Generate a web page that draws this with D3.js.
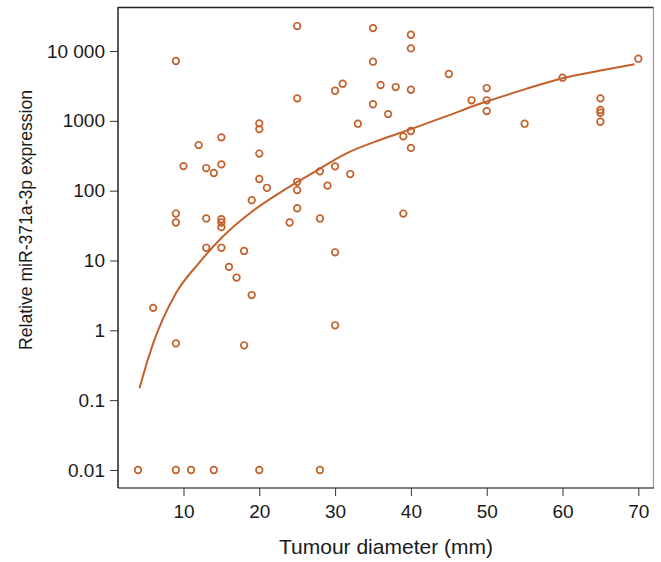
<!DOCTYPE html>
<html>
<head>
<meta charset="utf-8">
<script src="https://d3js.org/d3.v7.min.js"></script>
<style>
	body { margin: 0; background: #fff; }
	svg { font-family: "Liberation Sans", Arial, sans-serif; }
	.axis .domain { display: none; }
	.axis text { font-size: 19px; fill: #1a1a1a; }
	.axis line { stroke: #333; }
</style>
</head>
<body>
<svg width="661" height="562"></svg>
<script>

// tumour size (mm) and relative miR-371a-3p expression for each case
var diameter = [4, 6, 9, 9, 9, 9, 9, 10, 11, 12, 13, 13, 13, 14, 14, 15, 15, 15, 15, 15, 15,
	16, 17, 18, 18, 19, 19, 20, 20, 20, 20, 20, 21, 24, 25, 25, 25, 25, 25, 28, 28, 28, 29,
	30, 30, 30, 30, 31, 32, 33, 35, 35, 35, 36, 37, 38, 39, 39, 40, 40, 40, 40, 40, 45, 48,
	50, 50, 50, 55, 60, 65, 65, 65, 65, 70];
var expression = [0.01, 2.1, 7200, 47, 35, 0.65, 0.01, 225, 0.01, 450, 211, 40, 15.2, 179, 0.01,
	580, 238, 39, 35, 30, 15.2, 8.1, 5.7, 13.7, 0.61, 73, 3.2, 920, 760, 340, 147, 0.01, 110,
	35, 22800, 2100, 134, 102, 56, 189, 40, 0.01, 118, 2700, 223, 13.1, 1.18, 3400, 173, 910,
	21300, 7030, 1730, 3260, 1250, 3050, 600, 47, 17100, 10900, 2790, 715, 410, 4690, 1970,
	2950, 1970, 1380, 910, 4150, 2100, 1430, 1305, 970, 7760];

// fitted trend
var fitX = [4.2, 4.5, 6, 9, 12, 15, 19, 23, 27, 31.5, 36, 40, 45, 49, 55, 60, 65, 69.5];
var fitY = [0.148, 0.195, 0.65, 3.4, 9.1, 21, 50, 98, 178, 343, 537, 760, 1200, 1740, 2820, 4070, 5250, 6460];

var xTicks = [10, 20, 30, 40, 50, 60, 70];
var yTicks = [10000, 1000, 100, 10, 1, 0.1, 0.01];
var yTickLabels = ["10 000", "1000", "100", "10", "1", "0.1", "0.01"];

var color = "#c3612b";
var svg = d3.select("svg");
var margin = {top: 7, right: 7, bottom: 74, left: 118};
var width = 661 - margin.left - margin.right;
var height = 562 - margin.top - margin.bottom;

var g = svg.append("g").attr("transform", "translate(" + margin.left + "," + margin.top + ")");

var x = d3.scaleLinear().domain([1.36, 72.07]).range([0, width]);
var y = d3.scaleLog().domain([0.00552, 42700]).range([height, 0]);

// frame
g.append("line").attr("x1", 0).attr("x2", width).attr("y1", 0.5).attr("y2", 0.5).attr("stroke", "#222").attr("stroke-width", 1.5);
g.append("line").attr("x1", width - 0.5).attr("x2", width - 0.5).attr("y1", 0).attr("y2", height).attr("stroke", "#999").attr("stroke-width", 1.2);
g.append("line").attr("x1", 0).attr("x2", width).attr("y1", height).attr("y2", height).attr("stroke", "#555").attr("stroke-width", 1.5);
g.append("line").attr("x1", 0).attr("x2", 0).attr("y1", 0).attr("y2", height).attr("stroke", "#222").attr("stroke-width", 1.5);

g.append("g")
	.attr("class", "axis")
	.attr("transform", "translate(0," + height + ")")
	.call(d3.axisBottom(x).tickValues(xTicks).tickSize(8).tickPadding(9).tickFormat(d3.format("d")));

g.append("g")
	.attr("class", "axis")
	.call(d3.axisLeft(y).tickValues(yTicks).tickSize(8).tickPadding(5)
		.tickFormat(function(d, i) { return yTickLabels[i]; }));

var fit = fitX.map(function(d, i) { return [d, fitY[i]]; });
g.append("path")
	.datum(fit)
	.attr("fill", "none")
	.attr("stroke", color)
	.attr("stroke-width", 2)
	.attr("d", d3.line()
		.curve(d3.curveMonotoneX)
		.x(function(d) { return x(d[0]); })
		.y(function(d) { return y(d[1]); }));

g.append("g")
	.selectAll("circle")
	.data(diameter)
	.enter().append("circle")
	.attr("cx", function(d) { return x(d); })
	.attr("cy", function(d, i) { return y(expression[i]); })
	.attr("r", 3.3)
	.attr("fill", "none")
	.attr("stroke", color)
	.attr("stroke-width", 1.7);

svg.append("text")
	.attr("x", margin.left + width / 2)
	.attr("y", 554)
	.attr("text-anchor", "middle")
	.attr("font-size", 21)
	.attr("fill", "#1a1a1a")
	.text("Tumour diameter (mm)");

svg.append("text")
	.attr("transform", "translate(32,220) rotate(-90)")
	.attr("text-anchor", "middle")
	.attr("font-size", 19)
	.attr("fill", "#1a1a1a")
	.attr("textLength", 260)
	.attr("lengthAdjust", "spacingAndGlyphs")
	.text("Relative miR-371a-3p expression");

</script>
</body>
</html>
